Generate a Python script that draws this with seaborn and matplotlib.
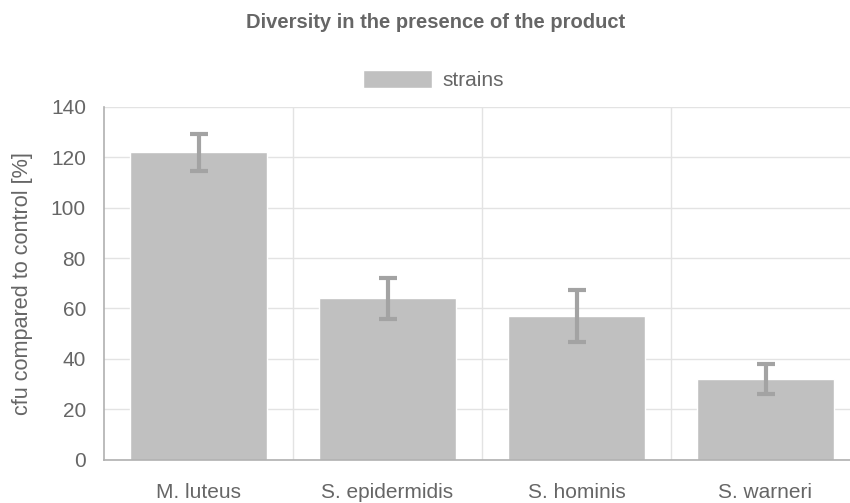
import pandas as pd
import seaborn as sns
import matplotlib.pyplot as plt
from matplotlib.ticker import FixedLocator

strains = ["M. luteus", "S. epidermidis", "S. hominis", "S. warneri"]
cfu = [122, 64, 57, 32]
err = [7.3, 8.2, 10.3, 5.8]

df = pd.DataFrame({"strain": strains, "cfu": cfu})

sns.set_style("white")
plt.rcParams["font.family"] = ["Liberation Sans", "DejaVu Sans"]

text_col = "#666666"
grid_col = "#e3e3e3"
axis_col = "#b0b0b0"

fig = plt.figure(figsize=(8.5, 5.03), dpi=100)
ax = fig.add_axes([104 / 850, 1 - 459.5 / 503, 756 / 850, 352.5 / 503])

sns.barplot(data=df, x="strain", y="cfu", color="#c0c0c0",
            width=0.72, saturation=1, label="strains", ax=ax, zorder=2)
ax.errorbar(strains, cfu, yerr=err, fmt="none", ecolor="#a3a3a3",
            elinewidth=3, capsize=6.5, capthick=3, zorder=3)

ax.set_ylim(0, 140)
ax.set_xlim(-0.5, 3.5)
ax.set_yticks(range(0, 141, 20))
ax.xaxis.set_minor_locator(FixedLocator([0.5, 1.5, 2.5, 3.5]))
ax.grid(axis="y", color=grid_col, linewidth=1, zorder=0)
ax.grid(axis="x", which="minor", color=grid_col, linewidth=1, zorder=0)
ax.grid(axis="x", which="major", visible=False)
ax.set_axisbelow(True)

ax.tick_params(axis="y", length=11, color=grid_col, labelsize=15,
               labelcolor=text_col, pad=2)
ax.tick_params(axis="x", which="major", length=0, labelsize=15,
               labelcolor=text_col, pad=17)
ax.tick_params(axis="x", which="minor", length=8, color=grid_col)

for s in ["top", "right"]:
    ax.spines[s].set_visible(False)
ax.spines["left"].set_color(axis_col)
ax.spines["bottom"].set_color(axis_col)
ax.spines["left"].set_linewidth(1.2)
ax.spines["bottom"].set_linewidth(1.2)

ax.set_xlabel("")
ax.set_ylabel("cfu compared to control [%]", fontsize=15.6, color=text_col,
              labelpad=13)

fig.text(0.512, 1 - 22 / 503, "Diversity in the presence of the product",
         ha="center", va="center", fontsize=14.5, fontweight="bold",
         color=text_col)

leg = ax.legend(loc="lower center", bbox_to_anchor=(0.436, 0.995),
                frameon=False, fontsize=15, handlelength=3.3,
                handleheight=1.0, handletextpad=0.5)
for t in leg.get_texts():
    t.set_color(text_col)

fig.savefig("out.png", dpi=100)
